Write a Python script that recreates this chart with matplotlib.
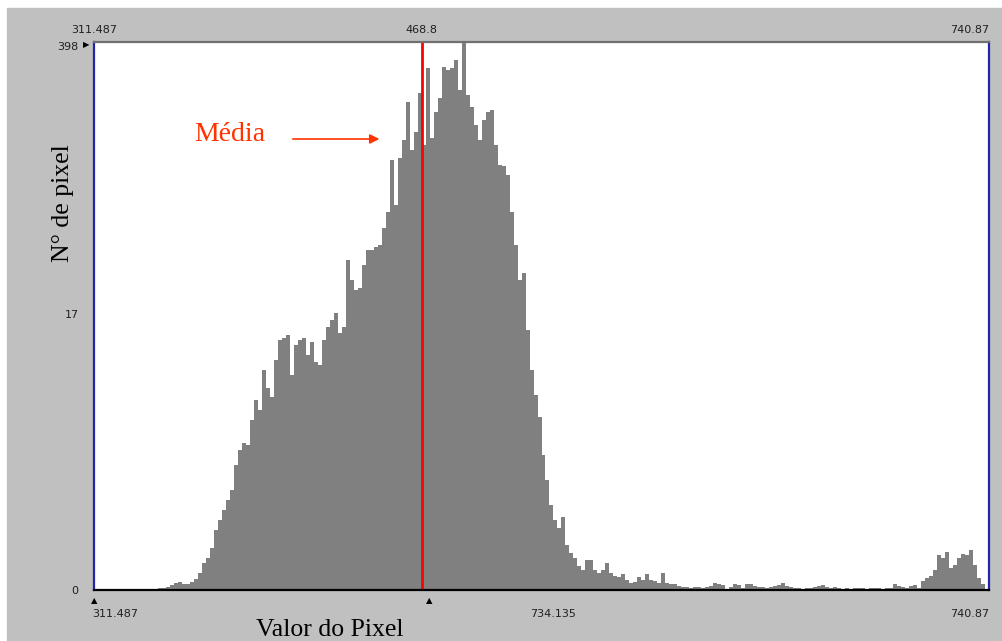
import numpy as np
import matplotlib
matplotlib.use("Agg")
import matplotlib.pyplot as plt
from matplotlib.patches import Rectangle

# pixel value range shown by the histogram window
x_min = 311.487
x_max = 740.87
media = 468.8
y_ticks = [0, 17, 398]
top_labels = ["311.487", "468.8", "740.87"]

# histogram counts, one per bin (224 equal bins from x_min to x_max)
counts = [
    0, 0, 0, 0, 0, 0, 0, 0, 0, 0, 0, 0, 0, 0, 0, 0,
    0.017, 0.017, 0.026, 0.044, 0.062, 0.071, 0.053, 0.053, 0.071, 0.100,
    0.160, 0.272, 0.332, 0.465, 0.743, 0.925, 1.12, 1.35, 1.61, 2.39,
    2.98, 3.29, 3.20, 4.51, 5.86, 5.14, 8.57, 6.83, 6.09, 9.70,
    12.39, 12.70, 13.16, 8.05, 11.66, 12.39, 12.70, 10.31, 12.09, 9.46,
    9.12, 12.39, 14.50, 15.77, 17.15, 13.49, 14.50, 32.09, 25.37, 22.54,
    23.08, 30.27, 36.08, 36.08, 37.36, 38.25, 46.63, 56.17, 102.5, 60.9,
    104.9, 129.1, 200.0, 115.1, 141.7, 221.9, 122.1, 295.5, 132.1, 178.1,
    209.3, 298.8, 288.7, 295.5, 323.9, 229.4, 398.0, 216.6, 188.7, 153.4,
    129.1, 162.6, 178.1, 182.3, 122.1, 96.7, 95.6, 86.2, 56.17, 38.25,
    25.37, 27.55, 13.98, 8.57, 6.25, 4.69, 2.77, 1.90, 1.24, 0.925,
    0.776, 0.98, 0.506, 0.396, 0.332, 0.236, 0.193, 0.307, 0.307, 0.193,
    0.160, 0.193, 0.272, 0.160, 0.130, 0.119, 0.150, 0.091, 0.062, 0.071,
    0.119, 0.091, 0.150, 0.091, 0.080, 0.062, 0.160, 0.062, 0.053, 0.053,
    0.035, 0.026, 0.026, 0.017, 0.026, 0.026, 0.017, 0.026, 0.035, 0.062,
    0.053, 0.044, 0.0, 0.026, 0.053, 0.044, 0.017, 0.053, 0.053, 0.035,
    0.026, 0.026, 0.017, 0.026, 0.035, 0.044, 0.062, 0.035, 0.026, 0.017,
    0.017, 0.009, 0.017, 0.017, 0.026, 0.035, 0.044, 0.026, 0.017, 0.026,
    0.017, 0.009, 0.017, 0.009, 0.017, 0.017, 0.017, 0.009, 0.017, 0.017,
    0.017, 0.009, 0.017, 0.017, 0.053, 0.035, 0.026, 0.017, 0.035, 0.044,
    0.017, 0.080, 0.110, 0.130, 0.193, 0.372, 0.332, 0.410, 0.215, 0.249,
    0.332, 0.384, 0.372, 0.437, 0.249, 0.110, 0.053, 0.0,
]

W, H = 1002, 641
fig = plt.figure(figsize=(W / 100, H / 100), dpi=100, facecolor="white")
fig.patches.append(Rectangle((7 / W, 0), 1 - 7 / W, (H - 8) / H,
                             transform=fig.transFigure, color="#c0c0c0", zorder=-5))

ax = fig.add_axes([94 / W, (H - 590) / H, 895 / W, 548 / H])
ax.set_facecolor("white")

edges = np.linspace(x_min, x_max, len(counts) + 1)
ax.set_yscale("function", functions=(lambda v: np.log(np.clip(v, 0, None) + 0.75),
                                     lambda u: np.exp(u) - 0.75))
ax.stairs(counts, edges, fill=True, color="#808080", linewidth=0)
ax.axvline(media, color="#ff0000", linewidth=2)

ax.set_xlim(x_min, x_max)
ax.set_ylim(0, 398)

# top ticks
ax.xaxis.tick_top()
ax.set_xticks([x_min, media, x_max])
ax.set_xticklabels(top_labels, fontsize=8, color="#202020")
ax.tick_params(axis="x", length=0, pad=5)
ax.get_xticklabels()[2].set_horizontalalignment("right")

ax.set_yticks(y_ticks)
ax.set_yticklabels([str(t) for t in y_ticks], fontsize=8, color="#202020")
ax.tick_params(axis="y", length=0, pad=11)
ax.get_yticklabels()[2].set_verticalalignment("top")
ax.minorticks_off()

for side in ("left", "right"):
    ax.spines[side].set_color("#2424a8")
    ax.spines[side].set_linewidth(1.6)
ax.spines["top"].set_color("#707070")
ax.spines["top"].set_linewidth(1.6)
ax.spines["bottom"].set_color("black")
ax.spines["bottom"].set_linewidth(1.6)

# slider markers and bottom labels
ax.text(-0.005, 0.996, "\u25B6", transform=ax.transAxes, fontsize=6,
        ha="right", va="center", color="black")
ax.text(0.0, -0.02, "\u25B2", transform=ax.transAxes, fontsize=6,
        ha="center", va="center", color="black")
ax.text(0.374, -0.02, "\u25B2", transform=ax.transAxes, fontsize=6,
        ha="center", va="center", color="black")
ax.text(-0.002, -0.044, "311.487", transform=ax.transAxes, fontsize=8,
        ha="left", va="center", color="#202020")
ax.text(0.513, -0.044, "734.135", transform=ax.transAxes, fontsize=8,
        ha="center", va="center", color="#202020")
ax.text(0.978, -0.044, "740.87", transform=ax.transAxes, fontsize=8,
        ha="center", va="center", color="#202020")

# mean annotation
ax.annotate("", xy=(0.322, 0.823), xytext=(0.219, 0.823), xycoords="axes fraction",
            arrowprops=dict(arrowstyle="-|>", color="#ff3300", lw=1.2,
                            mutation_scale=14))
ax.text(0.152, 0.832, "Média", transform=ax.transAxes, fontsize=20,
        family="Liberation Serif", color="#ff3300", ha="center", va="center")

fig.text(330 / W, 1 - 630 / H, "Valor do Pixel", fontsize=18.5,
         family="Liberation Serif", ha="center", va="center")
fig.text(63 / W, 1 - 203 / H, "N° de pixel", fontsize=18.5, rotation=90,
         family="Liberation Serif", ha="center", va="center")

fig.savefig("out.png", dpi=100, facecolor=fig.get_facecolor())
